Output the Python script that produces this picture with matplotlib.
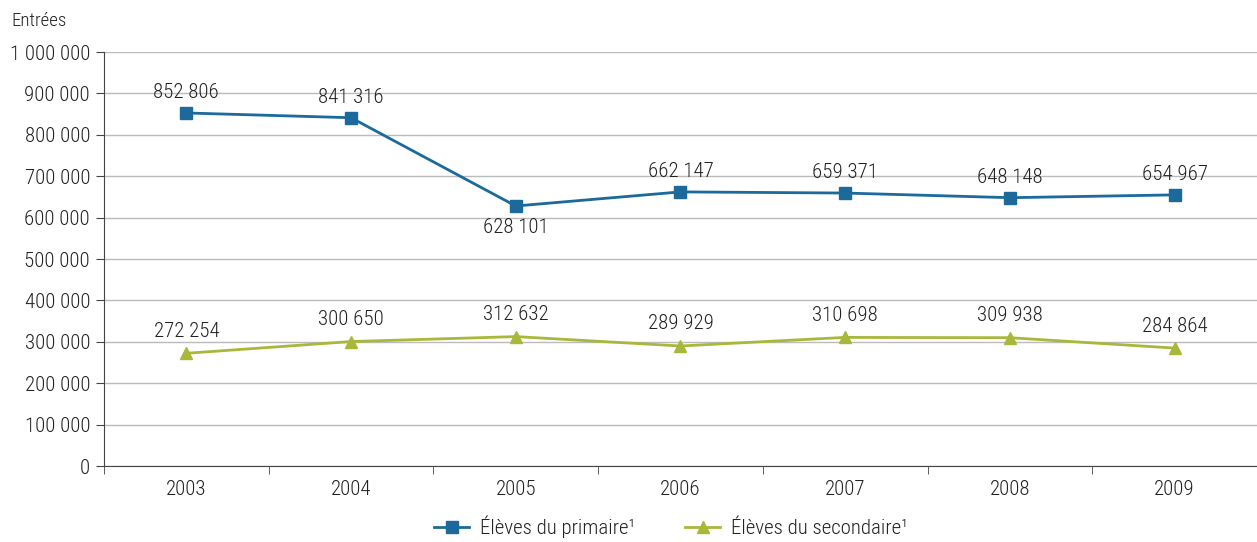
import matplotlib
matplotlib.use("Agg")
import matplotlib.pyplot as plt
from matplotlib.ticker import FuncFormatter, FixedLocator

plt.rcParams['font.family'] = ['Roboto Condensed', 'DejaVu Sans']
plt.rcParams['font.weight'] = 'light'

years = ['2003', '2004', '2005', '2006', '2007', '2008', '2009']
primaire = [852806, 841316, 628101, 662147, 659371, 648148, 654967]
secondaire = [272254, 300650, 312632, 289929, 310698, 309938, 284864]

blue = '#1b6a9b'
green = '#a9b83a'
txt = '#222222'

def fmt(v, pos=None):
    return '{:,}'.format(int(v)).replace(',', ' ')

fig = plt.figure(figsize=(12.57, 5.42), dpi=100)
ax = fig.add_axes([0.0827, 0.1402, 0.9173, 0.7638])

x = list(range(len(years)))
ax.plot(x, primaire, color=blue, lw=2, marker='s', ms=8.5, label='Élèves du primaire¹', zorder=3)
ax.plot(x, secondaire, color=green, lw=2, marker='^', ms=8.5, label='Élèves du secondaire¹', zorder=3)

# etiquettes de valeurs
for i, v in enumerate(primaire):
    if i == 2:
        ax.annotate(fmt(v), (i, v), xytext=(0, -9), textcoords='offset points',
                    ha='center', va='top', fontsize=15, color=txt)
    else:
        ax.annotate(fmt(v), (i, v), xytext=(0, 8), textcoords='offset points',
                    ha='center', va='bottom', fontsize=15, color=txt)
for i, v in enumerate(secondaire):
    ax.annotate(fmt(v), (i, v), xytext=(0, 9), textcoords='offset points',
                ha='center', va='bottom', fontsize=15, color=txt)

ax.set_xlim(-0.5, 6.5)
ax.set_ylim(0, 1000000)
ax.set_yticks(range(0, 1000001, 100000))
ax.yaxis.set_major_formatter(FuncFormatter(fmt))
ax.set_xticks(x)
ax.set_xticklabels(years)
ax.xaxis.set_minor_locator(FixedLocator([i - 0.5 for i in range(8)]))
ax.tick_params(axis='x', which='major', length=0, pad=10, labelsize=15, labelcolor=txt)
ax.tick_params(axis='x', which='minor', length=6, color='#444444', direction='out')
ax.tick_params(axis='y', length=6, color='#444444', labelsize=15, labelcolor=txt, pad=4)
ax.grid(axis='y', color='#bbbbbb', lw=1)
ax.set_axisbelow(True)
for s in ['top', 'right']:
    ax.spines[s].set_visible(False)
ax.spines['left'].set_color('#444444')
ax.spines['bottom'].set_color('#444444')

fig.text(0.009, 0.962, 'Entrées', fontsize=13.5, color=txt, ha='left', va='center')

fig.legend(loc='center', bbox_to_anchor=(0.534, 0.028), ncol=2, frameon=False,
           fontsize=15, handlelength=1.65, handletextpad=0.55, columnspacing=2.4,
           labelcolor=txt)

fig.savefig('out.png', dpi=100)
